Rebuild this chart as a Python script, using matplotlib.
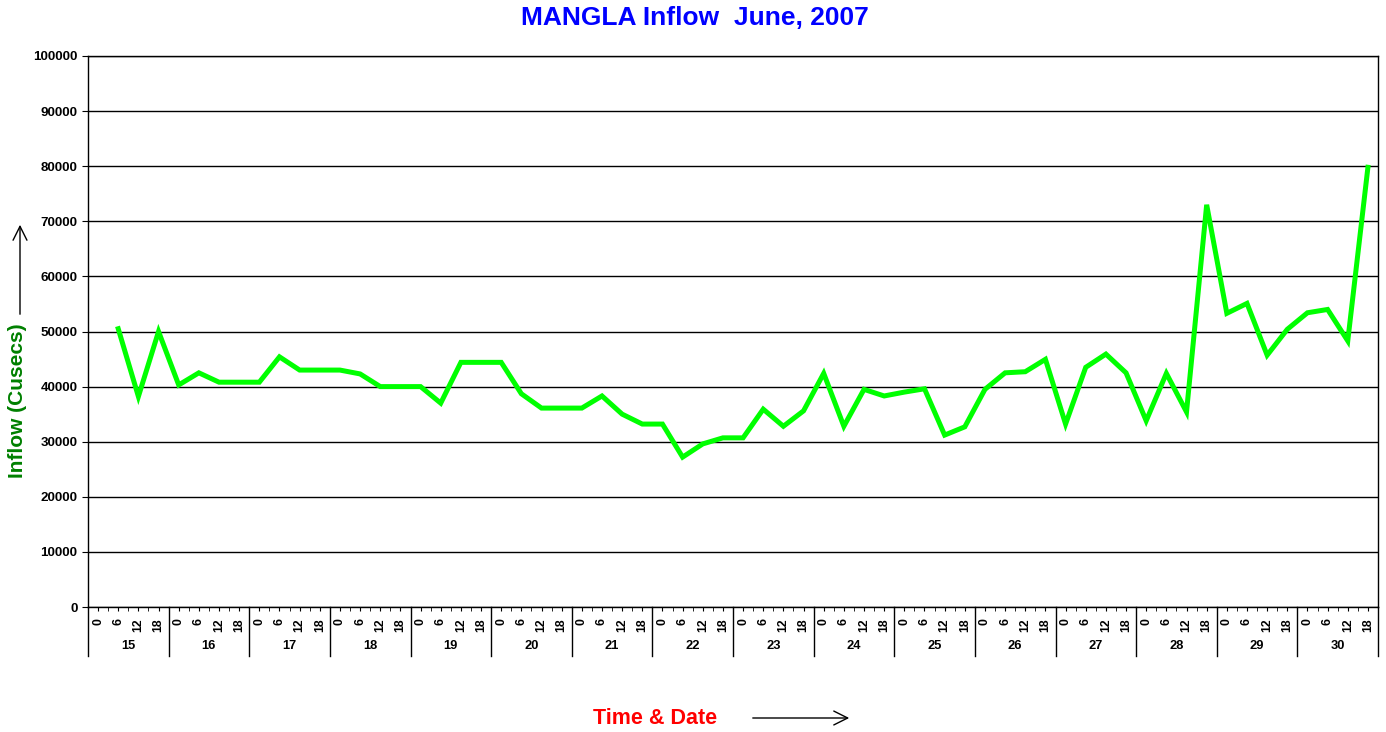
import matplotlib
matplotlib.use("Agg")
import matplotlib.pyplot as plt
import numpy as np
from matplotlib.transforms import blended_transform_factory

plt.rcParams['font.family'] = ['Liberation Sans', 'DejaVu Sans']

days = ['15', '16', '17', '18', '19', '20', '21', '22', '23', '24', '25', '26', '27', '28', '29', '30']
hours = ['0', '6', '12', '18']

# Inflow values (cusecs) from day 15 hour 6 through day 30 hour 18
inflow = [50500, 38200, 50000,
          40300, 42500, 40800, 40800,
          40800, 45400, 43000, 43000,
          43000, 42300, 40000, 40000,
          40000, 37000, 44400, 44400,
          44400, 38700, 36100, 36100,
          36100, 38300, 35000, 33200,
          33200, 27200, 29600, 30700,
          30700, 35900, 32800, 35600,
          42400, 32800, 39500, 38300,
          39000, 39600, 31200, 32700,
          39500, 42500, 42700, 44950,
          33200, 43500, 45900, 42500,
          33800, 42400, 35400, 73000,
          53300, 55100, 45700, 50400,
          53400, 54000, 48300, 79800]

W, H = 1386, 732
fig = plt.figure(figsize=(W / 100, H / 100), dpi=100)
ax = fig.add_axes([88 / W, (H - 607) / H, 1290 / W, 551 / H])

nslots = len(days) * len(hours)
x = np.arange(nslots - len(inflow), nslots)
ax.plot(x, inflow, color='#00FF00', lw=3.6, solid_joinstyle='miter')

ax.set_xlim(-0.5, nslots - 0.5)
ax.set_ylim(0, 100000)
ax.set_yticks(np.arange(0, 100001, 10000))
ax.set_yticklabels([str(v) for v in range(0, 100001, 10000)], fontsize=9.6, fontweight='bold')
ax.grid(axis='y', color='black', lw=1)
ax.set_axisbelow(True)

ax.set_xticks(np.arange(nslots))
ax.set_xticklabels(hours * len(days), rotation=90, fontsize=8.8, fontweight='bold')
ax.set_xticks(np.arange(-0.5, nslots, 1.0), minor=True)
ax.tick_params(axis='x', which='both', length=3, direction='out', pad=5)
ax.tick_params(axis='y', length=4, direction='out')

for sp in ax.spines.values():
    sp.set_color('black')
    sp.set_linewidth(1)

trans = blended_transform_factory(ax.transData, ax.transAxes)
sep_y = -(656 - 607) / 551
for i in range(len(days) + 1):
    xb = i * len(hours) - 0.5
    ax.plot([xb, xb], [0, sep_y], color='black', lw=1, transform=trans, clip_on=False)
day_y = -(646 - 607) / 551
for i, d in enumerate(days):
    ax.text(i * len(hours) + 1.5, day_y, d, transform=trans, ha='center', va='center',
            fontsize=9.3, fontweight='bold')

fig.text(695 / W, 1 - 18 / H, 'MANGLA Inflow  June, 2007', ha='center', va='center',
         fontsize=19, fontweight='bold', color='#0000FF')
fig.text(18 / W, 1 - 401 / H, 'Inflow (Cusecs)', ha='center', va='center', rotation=90,
         fontsize=15, fontweight='bold', color='#008000')
fig.text(655 / W, 1 - 718 / H, 'Time & Date', ha='center', va='center',
         fontsize=15.5, fontweight='bold', color='#FF0000')

fig.patches.append(matplotlib.patches.FancyArrowPatch(
    (20 / W, 1 - 317 / H), (20 / W, 1 - 222 / H), transform=fig.transFigure,
    arrowstyle='->,head_length=10,head_width=5', color='black', lw=1, mutation_scale=1))
fig.patches.append(matplotlib.patches.FancyArrowPatch(
    (750 / W, 1 - 718 / H), (852 / W, 1 - 718 / H), transform=fig.transFigure,
    arrowstyle='->,head_length=10,head_width=5', color='black', lw=1, mutation_scale=1))

fig.savefig('out.png', dpi=100, facecolor='white')
